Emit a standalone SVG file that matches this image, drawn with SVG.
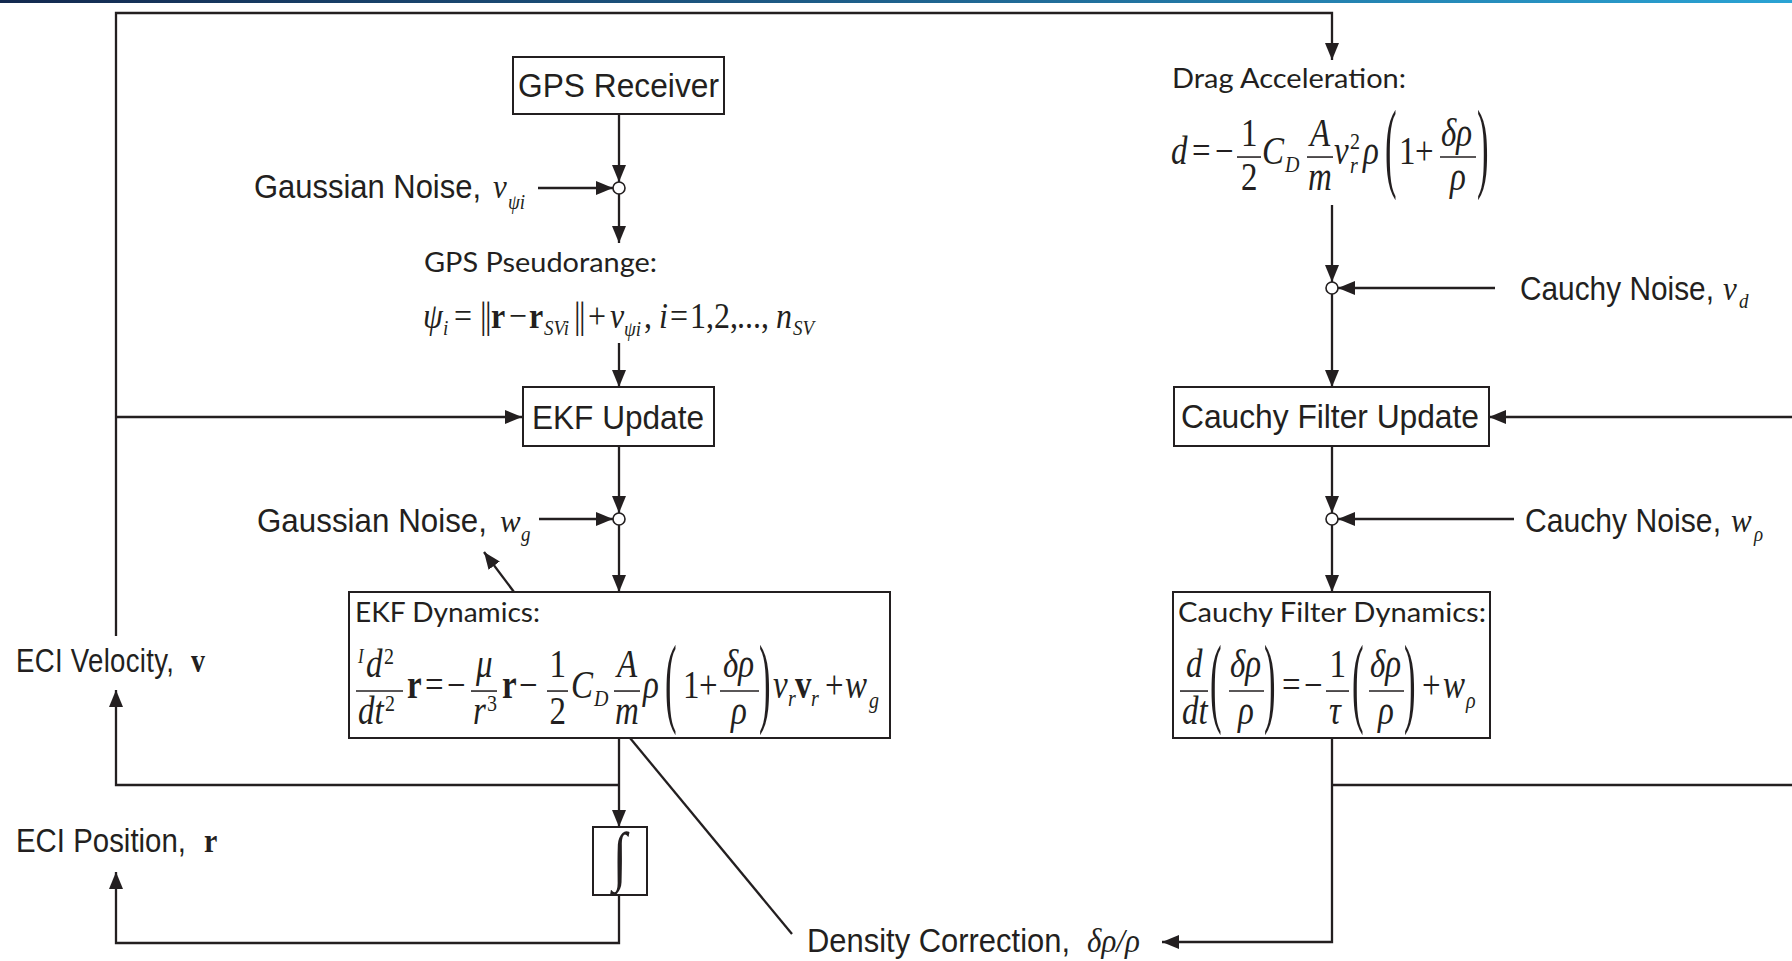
<svg xmlns="http://www.w3.org/2000/svg" width="1792" height="961" viewBox="0 0 1792 961">
  <defs>
    <linearGradient id="band" x1="0" y1="0" x2="1" y2="0">
      <stop offset="0" stop-color="#13294f"/>
      <stop offset="0.45" stop-color="#1d5b86"/>
      <stop offset="1" stop-color="#2aa3d4"/>
    </linearGradient>
    <marker id="ah" viewBox="0 0 17 14" refX="17" refY="7" markerWidth="17" markerHeight="14" markerUnits="userSpaceOnUse" orient="auto">
      <path d="M0,0 L17,7 L0,14 z" fill="#231f20"/>
    </marker>
    <style>
      .box { fill: #fff; stroke: #231f20; stroke-width: 2; }
      .wire { fill: none; stroke: #231f20; stroke-width: 2.3; }
      .arr { marker-end: url(#ah); }
      .junc { fill: #fff; stroke: #231f20; stroke-width: 1.6; }
      .bar { stroke: #231f20; stroke-width: 1.3; }
      .lbl { font-family: "Liberation Sans", Arial, sans-serif; fill: #231f20; }
      .cal { font-family: Lato, "Open Sans", sans-serif; font-size: 27px; fill: #231f20; }
      .m { font-family: "Liberation Serif", "Times New Roman", serif; font-size: 32px; fill: #231f20; }
      .m33 { font-family: "Liberation Serif", "Times New Roman", serif; font-size: 33px; fill: #231f20; }
      .v { font-family: "Liberation Serif", "Times New Roman", serif; font-size: 31px; }
      .i { font-style: italic; }
      .b { font-weight: bold; }
      .s { font-size: 19px; }
      .big { font-family: "Liberation Serif", "Times New Roman", serif; font-size: 83px; fill: #231f20; }
      .mid { text-anchor: middle; }
    </style>
  </defs>

  <rect width="1792" height="961" fill="#fff"/>
  <rect x="0" y="0" width="1792" height="3" fill="url(#band)"/>

  <!-- signal lines -->
  <g id="connectors">
    <path class="wire arr" d="M116,636 V13 H1332 V60"/>
    <path class="wire arr" d="M116,417 H522"/>
    <path class="wire arr" d="M619,114 V182"/>
    <path class="wire arr" d="M538,188 H613"/>
    <path class="wire arr" d="M619,194 V243"/>
    <path class="wire arr" d="M619,343 V387"/>
    <path class="wire arr" d="M619,446 V513"/>
    <path class="wire arr" d="M539,519 H613"/>
    <path class="wire arr" d="M619,525 V592"/>
    <path class="wire arr" d="M514,592 L484,552"/>
    <path class="wire arr" d="M619,738 V827"/>
    <path class="wire arr" d="M619,785 H116 V690"/>
    <path class="wire arr" d="M619,895 V943 H116 V872"/>
    <path class="wire" d="M630,738 L792,934" stroke-width="1.7"/>
    <path class="wire arr" d="M1332,205 V282"/>
    <path class="wire arr" d="M1495,288 H1338"/>
    <path class="wire arr" d="M1332,294 V387"/>
    <path class="wire arr" d="M1792,417 H1489"/>
    <path class="wire arr" d="M1332,446 V513"/>
    <path class="wire arr" d="M1514,519 H1338"/>
    <path class="wire arr" d="M1332,525 V592"/>
    <path class="wire arr" d="M1332,738 V942 H1162"/>
    <path class="wire" d="M1332,785 H1792"/>
  </g>

  <!-- summing junctions -->
  <g id="junctions">
    <circle class="junc" cx="619" cy="188" r="6"/>
    <circle class="junc" cx="619" cy="519" r="6"/>
    <circle class="junc" cx="1332" cy="288" r="6"/>
    <circle class="junc" cx="1332" cy="519" r="6"/>
  </g>

  <!-- sans labels are drawn slightly tall: each is stretched vertically about its baseline -->
  <g id="gps-receiver">
    <rect class="box" x="513" y="57" width="211" height="57"/>
    <text class="lbl" x="518" y="97" font-size="31.7" textLength="201" transform="matrix(1,0,0,1.035,0,-3.4)">GPS Receiver</text>
  </g>

  <g id="noise-psi">
    <text class="lbl" y="198" font-size="31" transform="matrix(1,0,0,1.059,0,-11.7)"><tspan x="254" textLength="227">Gaussian Noise,</tspan><tspan class="v i" x="493" y="198">v</tspan><tspan class="v i s" x="508" y="208.4">ψi</tspan></text>
  </g>

  <g id="pseudorange">
    <text class="cal" x="424" y="272" textLength="233" lengthAdjust="spacingAndGlyphs">GPS Pseudorange:</text>
    <text class="m" font-size="33" transform="matrix(1,0,0,1.15,0,-49.2)">
      <tspan class="i" x="423" y="328">ψ</tspan>
      <tspan class="i s" x="443" y="334">i</tspan>
      <tspan x="454" y="328">=</tspan>
      <tspan x="480" y="328" font-size="33">|</tspan>
      <tspan x="485" y="328" font-size="33">|</tspan>
      <tspan class="b" x="491" y="328">r</tspan>
      <tspan x="509" y="328">−</tspan>
      <tspan class="b" x="529" y="328">r</tspan>
      <tspan class="i s" x="544" y="334">SVi</tspan>
      <tspan x="574" y="328" font-size="33">|</tspan>
      <tspan x="579" y="328" font-size="33">|</tspan>
      <tspan x="588" y="328">+</tspan>
      <tspan class="i" x="610" y="328">v</tspan>
      <tspan class="i s" x="624" y="335">ψi</tspan>
      <tspan x="644" y="328">,</tspan>
      <tspan class="i" x="659" y="328">i</tspan>
      <tspan x="670" y="328">=</tspan>
      <tspan x="690" y="328">1,</tspan>
      <tspan x="714" y="328">2,</tspan>
      <tspan x="737" y="328">...,</tspan>
      <tspan class="i" x="776" y="328">n</tspan>
      <tspan class="i s" x="793" y="334">SV</tspan>
    </text>
  </g>

  <g id="ekf-update">
    <rect class="box" x="523" y="387" width="191" height="59"/>
    <text class="lbl" x="532" y="429" font-size="31.6" textLength="172" transform="matrix(1,0,0,1.039,0,-16.7)">EKF Update</text>
  </g>

  <g id="noise-wg">
    <text class="lbl" y="532" font-size="31.3" transform="matrix(1,0,0,1.049,0,-26.1)"><tspan x="257" textLength="230">Gaussian Noise,</tspan><tspan class="v i" x="500" y="532">w</tspan><tspan class="v i s" x="521" y="540.6">g</tspan></text>
  </g>

  <!-- formulas use a slightly tall serif: each one is stretched vertically about its main baseline -->
  <g id="ekf-dynamics">
    <rect class="box" x="349" y="592" width="541" height="146"/>
    <text class="cal" x="355" y="622" textLength="185" lengthAdjust="spacingAndGlyphs">EKF Dynamics:</text>
    <g transform="matrix(1,0,0,1.2,0,-139.6)">
      <line class="bar" x1="356" y1="692.2" x2="403" y2="692.2"/>
      <line class="bar" x1="471" y1="692.2" x2="497" y2="692.2"/>
      <line class="bar" x1="547" y1="692.2" x2="568" y2="692.2"/>
      <line class="bar" x1="614" y1="692.2" x2="640" y2="692.2"/>
      <line class="bar" x1="720" y1="692.2" x2="759" y2="692.2"/>
      <text class="big" transform="translate(665,711.4) scale(0.42,1)">(</text>
      <text class="big" transform="translate(759,711.4) scale(0.42,1)">)</text>
      <text class="m33">
        <tspan class="i" x="358" y="668.8" font-size="17">I</tspan>
        <tspan class="i" x="366" y="680.5">d</tspan>
        <tspan x="384" y="669.7" font-size="20">2</tspan>
        <tspan class="i" x="358" y="719.7">dt</tspan>
        <tspan x="385" y="708.8" font-size="20">2</tspan>
        <tspan class="b" x="407" y="698">r</tspan>
        <tspan x="425" y="698">=</tspan>
        <tspan x="447" y="698">−</tspan>
        <tspan class="i" x="476" y="680.5">μ</tspan>
        <tspan class="i" x="473" y="719.7">r</tspan>
        <tspan x="487" y="708.8" font-size="20">3</tspan>
        <tspan class="b" x="502" y="698">r</tspan>
        <tspan x="519" y="698">−</tspan>
        <tspan x="549.5" y="680.5">1</tspan>
        <tspan x="549.5" y="719.7">2</tspan>
        <tspan class="i" x="571" y="698">C</tspan>
        <tspan class="i" x="594" y="704.7" font-size="20">D</tspan>
        <tspan class="i" x="617" y="680.5">A</tspan>
        <tspan class="i" x="615" y="719.7">m</tspan>
        <tspan class="i" x="643" y="698">ρ</tspan>
        <tspan x="683" y="698">1</tspan>
        <tspan x="699" y="698">+</tspan>
        <tspan class="i" x="723" y="680.5">δρ</tspan>
        <tspan class="i" x="731" y="719.7">ρ</tspan>
        <tspan class="i" x="773" y="698">v</tspan>
        <tspan class="i" x="788" y="704.7" font-size="20">r</tspan>
        <tspan class="b" x="795" y="698">v</tspan>
        <tspan class="i" x="811" y="704.7" font-size="20">r</tspan>
        <tspan x="825" y="698">+</tspan>
        <tspan class="i" x="845" y="698">w</tspan>
        <tspan class="i" x="869" y="706.3" font-size="20">g</tspan>
      </text>
    </g>
  </g>

  <g id="integrator">
    <rect class="box" x="593" y="827" width="54" height="68"/>
    <text class="m mid" transform="translate(620,878) scale(1.6,2.05)" font-size="64">∫</text>
  </g>

  <g id="eci-velocity">
    <text class="lbl" y="672" font-size="27.6" transform="matrix(1,0,0,1.19,0,-127.7)"><tspan x="16" textLength="158">ECI Velocity,</tspan><tspan class="b" x="191" y="672" font-family="Liberation Serif, serif" font-size="28">v</tspan></text>
  </g>

  <g id="eci-position">
    <text class="lbl" y="852" font-size="29.4" transform="matrix(1,0,0,1.116,0,-98.8)"><tspan x="16" textLength="170">ECI Position,</tspan><tspan class="b" x="204" y="852" font-family="Liberation Serif, serif" font-size="30">r</tspan></text>
  </g>

  <g id="drag-acceleration">
    <text class="cal" x="1172" y="88" textLength="234" lengthAdjust="spacingAndGlyphs">Drag Acceleration:</text>
    <g transform="matrix(1,0,0,1.2,0,-32.8)">
      <line class="bar" x1="1237" y1="158.2" x2="1261" y2="158.2"/>
      <line class="bar" x1="1307" y1="158.2" x2="1333" y2="158.2"/>
      <line class="bar" x1="1440" y1="158.2" x2="1476" y2="158.2"/>
      <text class="big" transform="translate(1385,176.6) scale(0.42,1)">(</text>
      <text class="big" transform="translate(1477,176.6) scale(0.42,1)">)</text>
      <text class="m33">
        <tspan class="i" x="1171" y="164">d</tspan>
        <tspan x="1192" y="164">=</tspan>
        <tspan x="1215" y="164">−</tspan>
        <tspan x="1241" y="149">1</tspan>
        <tspan x="1241" y="185.7">2</tspan>
        <tspan class="i" x="1262" y="164">C</tspan>
        <tspan class="i" x="1285" y="170.7" font-size="20">D</tspan>
        <tspan class="i" x="1310" y="149">A</tspan>
        <tspan class="i" x="1308" y="185.7">m</tspan>
        <tspan class="i" x="1334" y="164">v</tspan>
        <tspan x="1350" y="151.5" font-size="20">2</tspan>
        <tspan class="i" x="1350" y="171.5" font-size="20">r</tspan>
        <tspan class="i" x="1363" y="164">ρ</tspan>
        <tspan x="1399" y="164">1</tspan>
        <tspan x="1415" y="164">+</tspan>
        <tspan class="i" x="1441" y="149">δρ</tspan>
        <tspan class="i" x="1450" y="185.7">ρ</tspan>
      </text>
    </g>
  </g>

  <g id="noise-vd">
    <text class="lbl" y="300" font-size="29.8" transform="matrix(1,0,0,1.101,0,-30.3)"><tspan x="1520" textLength="194">Cauchy Noise,</tspan><tspan class="v i" x="1723" y="300">v</tspan><tspan class="v i s" x="1739" y="307.3">d</tspan></text>
  </g>

  <g id="cauchy-update">
    <rect class="box" x="1174" y="387" width="315" height="59"/>
    <text class="lbl" x="1181" y="428" font-size="31.8" textLength="298" transform="matrix(1,0,0,1.032,0,-13.7)">Cauchy Filter Update</text>
  </g>

  <g id="noise-wrho">
    <text class="lbl" y="532" font-size="30.1" transform="matrix(1,0,0,1.09,0,-47.9)"><tspan x="1525" textLength="196">Cauchy Noise,</tspan><tspan class="v i" x="1731" y="532">w</tspan><tspan class="v i s" x="1754" y="540.3">ρ</tspan></text>
  </g>

  <g id="cauchy-dynamics">
    <rect class="box" x="1173" y="592" width="317" height="146"/>
    <text class="cal" x="1178" y="622" textLength="308" lengthAdjust="spacingAndGlyphs">Cauchy Filter Dynamics:</text>
    <g transform="matrix(1,0,0,1.2,0,-139.6)">
      <line class="bar" x1="1180" y1="692.2" x2="1208" y2="692.2"/>
      <line class="bar" x1="1229" y1="692.2" x2="1264" y2="692.2"/>
      <line class="bar" x1="1326" y1="692.2" x2="1349" y2="692.2"/>
      <line class="bar" x1="1369" y1="692.2" x2="1404" y2="692.2"/>
      <text class="big" transform="translate(1210,711.4) scale(0.42,1)">(</text>
      <text class="big" transform="translate(1264,711.4) scale(0.42,1)">)</text>
      <text class="big" transform="translate(1352,711.4) scale(0.42,1)">(</text>
      <text class="big" transform="translate(1404,711.4) scale(0.42,1)">)</text>
      <text class="m33">
        <tspan class="i" x="1186" y="680.5">d</tspan>
        <tspan class="i" x="1182" y="719.7">dt</tspan>
        <tspan class="i" x="1230" y="680.5">δρ</tspan>
        <tspan class="i" x="1238" y="719.7">ρ</tspan>
        <tspan x="1282" y="698">=</tspan>
        <tspan x="1304" y="698">−</tspan>
        <tspan x="1329.5" y="680.5">1</tspan>
        <tspan class="i" x="1329" y="719.7">τ</tspan>
        <tspan class="i" x="1370" y="680.5">δρ</tspan>
        <tspan class="i" x="1378" y="719.7">ρ</tspan>
        <tspan x="1422" y="698">+</tspan>
        <tspan class="i" x="1443" y="698">w</tspan>
        <tspan class="i" x="1466" y="706.3" font-size="20">ρ</tspan>
      </text>
    </g>
  </g>

  <g id="density-correction">
    <text class="lbl" y="952" font-size="30.9" transform="matrix(1,0,0,1.062,0,-59)"><tspan x="807" textLength="263">Density Correction,</tspan><tspan class="v i" x="1087" y="952">δρ/ρ</tspan></text>
  </g>
</svg>
